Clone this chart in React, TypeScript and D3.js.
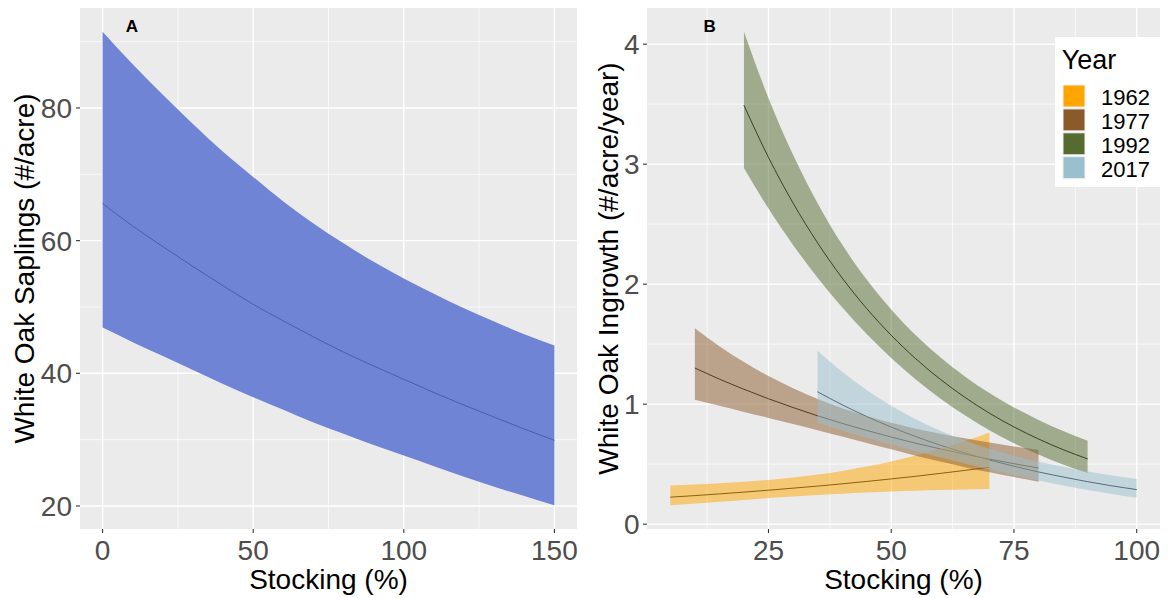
import React from "react";
import * as d3 from "d3";

// ---------- Data: Panel A ----------
const stockingA = [0, 10, 20, 30, 40, 50, 60, 70, 80, 90, 100, 110, 120, 130, 140, 150];
const saplingMean = [65.6, 62.2, 59.1, 56.1, 53.2, 50.4, 47.9, 45.5, 43.2, 41.1, 39.1, 37.1, 35.2, 33.4, 31.6, 29.9];
const saplingLower = [46.9, 44.7, 42.6, 40.5, 38.4, 36.4, 34.5, 32.6, 30.9, 29.2, 27.6, 26.0, 24.4, 22.9, 21.5, 20.1];
const saplingUpper = [91.5, 86.6, 82.0, 77.6, 73.4, 69.6, 65.9, 62.6, 59.6, 56.8, 54.3, 52.0, 49.8, 47.8, 45.9, 44.2];
const xTicksA = [0, 50, 100, 150];
const yTicksA = [20, 40, 60, 80];

// ---------- Data: Panel B ----------
const years = ["1962", "1977", "1992", "2017"];

const stocking1962 = [5, 10, 15, 20, 25, 30, 35, 40, 45, 50, 55, 60, 65, 70];
const mean1962 = [0.225, 0.238, 0.252, 0.267, 0.283, 0.3, 0.317, 0.336, 0.356, 0.377, 0.399, 0.423, 0.448, 0.474];
const lower1962 = [0.157, 0.172, 0.187, 0.202, 0.217, 0.231, 0.244, 0.254, 0.264, 0.272, 0.278, 0.284, 0.289, 0.294];
const upper1962 = [0.323, 0.331, 0.341, 0.353, 0.369, 0.389, 0.414, 0.444, 0.48, 0.523, 0.573, 0.629, 0.692, 0.764];

const stocking1977 = [10, 15, 20, 25, 30, 35, 40, 45, 50, 55, 60, 65, 70, 75, 80];
const mean1977 = [1.301, 1.209, 1.124, 1.045, 0.972, 0.903, 0.84, 0.781, 0.726, 0.674, 0.627, 0.583, 0.542, 0.504, 0.468];
const lower1977 = [1.037, 0.986, 0.935, 0.885, 0.835, 0.783, 0.73, 0.677, 0.624, 0.571, 0.522, 0.475, 0.432, 0.392, 0.354];
const upper1977 = [1.632, 1.483, 1.351, 1.234, 1.132, 1.042, 0.966, 0.901, 0.845, 0.796, 0.754, 0.715, 0.68, 0.648, 0.619];

const stocking1992 = [20, 25, 30, 35, 40, 45, 50, 55, 60, 65, 70, 75, 80, 85, 90];
const mean1992 = [3.49, 3.056, 2.676, 2.344, 2.052, 1.797, 1.574, 1.378, 1.207, 1.057, 0.925, 0.81, 0.71, 0.621, 0.544];
const lower1992 = [2.968, 2.63, 2.327, 2.054, 1.807, 1.584, 1.385, 1.206, 1.048, 0.908, 0.783, 0.675, 0.58, 0.497, 0.426];
const upper1992 = [4.104, 3.55, 3.078, 2.675, 2.33, 2.038, 1.789, 1.574, 1.39, 1.231, 1.092, 0.973, 0.869, 0.776, 0.695];

const stocking2017 = [35, 40, 45, 50, 55, 60, 65, 70, 75, 80, 85, 90, 95, 100];
const mean2017 = [1.103, 0.995, 0.897, 0.809, 0.73, 0.658, 0.594, 0.535, 0.483, 0.435, 0.393, 0.354, 0.319, 0.288];
const lower2017 = [0.842, 0.78, 0.72, 0.663, 0.609, 0.556, 0.506, 0.455, 0.409, 0.364, 0.323, 0.285, 0.251, 0.22];
const upper2017 = [1.445, 1.27, 1.118, 0.987, 0.875, 0.778, 0.698, 0.628, 0.571, 0.52, 0.478, 0.439, 0.405, 0.377];

const xTicksB = [25, 50, 75, 100];
const yTicksB = [0, 1, 2, 3, 4];

// ---------- Styles ----------
const yearColors = ["#FFA500", "#8B5A2B", "#556B2F", "#9AC0CD"];
const FONT = "'Liberation Sans', Arial, Helvetica, sans-serif";
const PANEL_BG = "#EBEBEB";
const TICK_TEXT = "#4D4D4D";

type Pt = { x: number; m: number; lo: number; hi: number };
const zip = (xs: number[], m: number[], lo: number[], hi: number[]): Pt[] =>
  xs.map((x, i) => ({ x, m: m[i], lo: lo[i], hi: hi[i] }));

const seriesB = [
  zip(stocking1962, mean1962, lower1962, upper1962),
  zip(stocking1977, mean1977, lower1977, upper1977),
  zip(stocking1992, mean1992, lower1992, upper1992),
  zip(stocking2017, mean2017, lower2017, upper2017),
];
const seriesA = zip(stockingA, saplingMean, saplingLower, saplingUpper);

function expandDomain(vals: number[]): [number, number] {
  const lo = d3.min(vals)!;
  const hi = d3.max(vals)!;
  const pad = (hi - lo) * 0.05;
  return [lo - pad, hi + pad];
}

export default function App() {
  const W = 1168;
  const H = 598;
  const top = 8;
  const bottom = 529;

  // Panel A scales
  const xA = d3.scaleLinear().domain(expandDomain(stockingA)).range([80, 577]);
  const yA = d3
    .scaleLinear()
    .domain(expandDomain([...saplingLower, ...saplingUpper]))
    .range([bottom, top]);

  // Panel B scales
  const allX = [...stocking1962, ...stocking1977, ...stocking1992, ...stocking2017];
  const allY = [...lower1962, ...upper1962, ...lower1977, ...upper1977, ...lower1992, ...upper1992, ...lower2017, ...upper2017];
  const xB = d3.scaleLinear().domain(expandDomain(allX)).range([647, 1160]);
  const yB = d3.scaleLinear().domain(expandDomain(allY)).range([bottom, top]);

  const areaA = d3
    .area<Pt>()
    .x((d) => xA(d.x))
    .y0((d) => yA(d.lo))
    .y1((d) => yA(d.hi))
    .curve(d3.curveMonotoneX);
  const lineA = d3
    .line<Pt>()
    .x((d) => xA(d.x))
    .y((d) => yA(d.m))
    .curve(d3.curveMonotoneX);
  const areaB = d3
    .area<Pt>()
    .x((d) => xB(d.x))
    .y0((d) => yB(d.lo))
    .y1((d) => yB(d.hi))
    .curve(d3.curveMonotoneX);
  const lineB = d3
    .line<Pt>()
    .x((d) => xB(d.x))
    .y((d) => yB(d.m))
    .curve(d3.curveMonotoneX);

  const gridA = {
    xMajor: xTicksA,
    xMinor: [25, 75, 125],
    yMajor: yTicksA,
    yMinor: [30, 50, 70, 90],
  };
  const gridB = {
    xMajor: xTicksB,
    xMinor: [12.5, 37.5, 62.5, 87.5],
    yMajor: yTicksB,
    yMinor: [0.5, 1.5, 2.5, 3.5],
  };

  const renderGrid = (
    xs: d3.ScaleLinear<number, number>,
    ys: d3.ScaleLinear<number, number>,
    g: { xMajor: number[]; xMinor: number[]; yMajor: number[]; yMinor: number[] }
  ) => {
    const [x0, x1] = xs.range();
    const [y0, y1] = ys.range();
    return (
      <g>
        <rect x={x0} y={y1} width={x1 - x0} height={y0 - y1} fill={PANEL_BG} />
        {g.yMinor.map((v) => (
          <line key={"ym" + v} x1={x0} x2={x1} y1={ys(v)} y2={ys(v)} stroke="#fff" strokeWidth={0.7} />
        ))}
        {g.xMinor.map((v) => (
          <line key={"xm" + v} x1={xs(v)} x2={xs(v)} y1={y0} y2={y1} stroke="#fff" strokeWidth={0.7} />
        ))}
        {g.yMajor.map((v) => (
          <line key={"yM" + v} x1={x0} x2={x1} y1={ys(v)} y2={ys(v)} stroke="#fff" strokeWidth={1.4} />
        ))}
        {g.xMajor.map((v) => (
          <line key={"xM" + v} x1={xs(v)} x2={xs(v)} y1={y0} y2={y1} stroke="#fff" strokeWidth={1.4} />
        ))}
      </g>
    );
  };

  const renderAxes = (
    xs: d3.ScaleLinear<number, number>,
    ys: d3.ScaleLinear<number, number>,
    xt: number[],
    yt: number[],
    yLabelRight: number
  ) => {
    const [x0] = xs.range();
    const [y0] = ys.range();
    return (
      <g fontFamily={FONT}>
        {xt.map((v) => (
          <g key={"xt" + v}>
            <line x1={xs(v)} x2={xs(v)} y1={y0} y2={y0 + 4} stroke="#333" strokeWidth={1.1} />
            <text x={xs(v)} y={560} textAnchor="middle" fontSize={28} fill={TICK_TEXT}>
              {v}
            </text>
          </g>
        ))}
        {yt.map((v) => (
          <g key={"yt" + v}>
            <line x1={x0 - 4} x2={x0} y1={ys(v)} y2={ys(v)} stroke="#333" strokeWidth={1.1} />
            <text x={yLabelRight} y={ys(v) + 10} textAnchor="end" fontSize={28} fill={TICK_TEXT}>
              {v}
            </text>
          </g>
        ))}
      </g>
    );
  };

  const legendX = 1055;
  const legendY = 37;
  const keyStep = 23.9;

  return (
    <svg
      width={W}
      height={H}
      viewBox={`0 0 ${W} ${H}`}
      style={{ position: "absolute", left: 0, top: 0, background: "#fff" }}
    >
      <rect x={0} y={0} width={W} height={H} fill="#fff" />

      {/* Panel A */}
      {renderGrid(xA, yA, gridA)}
      <path d={areaA(seriesA) || ""} fill="#6F84D4" />
      <path d={lineA(seriesA) || ""} fill="none" stroke="#4A5DB0" strokeWidth={1} />
      {renderAxes(xA, yA, xTicksA, yTicksA, 72)}
      <text x={132} y={32} textAnchor="middle" fontFamily={FONT} fontWeight="bold" fontSize={17} fill="#000">
        A
      </text>
      <text
        x={(xA.range()[0] + xA.range()[1]) / 2}
        y={589}
        textAnchor="middle"
        fontFamily={FONT}
        fontSize={28}
        fill="#000"
      >
        Stocking (%)
      </text>
      <text
        transform={`translate(33.5, ${(top + bottom) / 2}) rotate(-90)`}
        textAnchor="middle"
        fontFamily={FONT}
        fontSize={28}
        fill="#000"
      >
        White Oak Saplings (#/acre)
      </text>

      {/* Panel B */}
      {renderGrid(xB, yB, gridB)}
      {seriesB.map((s, i) => (
        <path key={"l" + i} d={lineB(s) || ""} fill="none" stroke="#000" strokeWidth={0.9} />
      ))}
      {seriesB.map((s, i) => (
        <path key={"a" + i} d={areaB(s) || ""} fill={yearColors[i]} fillOpacity={0.5} />
      ))}
      {renderAxes(xB, yB, xTicksB, yTicksB, 639.5)}
      <text x={709.7} y={32} textAnchor="middle" fontFamily={FONT} fontWeight="bold" fontSize={17} fill="#000">
        B
      </text>
      <text
        x={(xB.range()[0] + xB.range()[1]) / 2}
        y={589}
        textAnchor="middle"
        fontFamily={FONT}
        fontSize={28}
        fill="#000"
      >
        Stocking (%)
      </text>
      <text
        transform={`translate(617.7, ${(top + bottom) / 2}) rotate(-90)`}
        textAnchor="middle"
        fontFamily={FONT}
        fontSize={28}
        fill="#000"
      >
        White Oak Ingrowth (#/acre/year)
      </text>

      {/* Legend */}
      <g fontFamily={FONT}>
        <rect x={legendX} y={legendY} width={108} height={150} fill="#fff" />
        <text x={legendX + 6.7} y={69.3} fontSize={27} fill="#000">
          Year
        </text>
        {years.map((yr, i) => (
          <g key={yr}>
            <rect
              x={legendX + 8}
              y={85 + i * keyStep}
              width={22}
              height={22}
              fill={yearColors[i]}
              stroke="#F0F0F0"
              strokeWidth={1}
            />
            <text x={1101} y={105.3 + i * keyStep} fontSize={22} fill="#000">
              {yr}
            </text>
          </g>
        ))}
      </g>
    </svg>
  );
}
